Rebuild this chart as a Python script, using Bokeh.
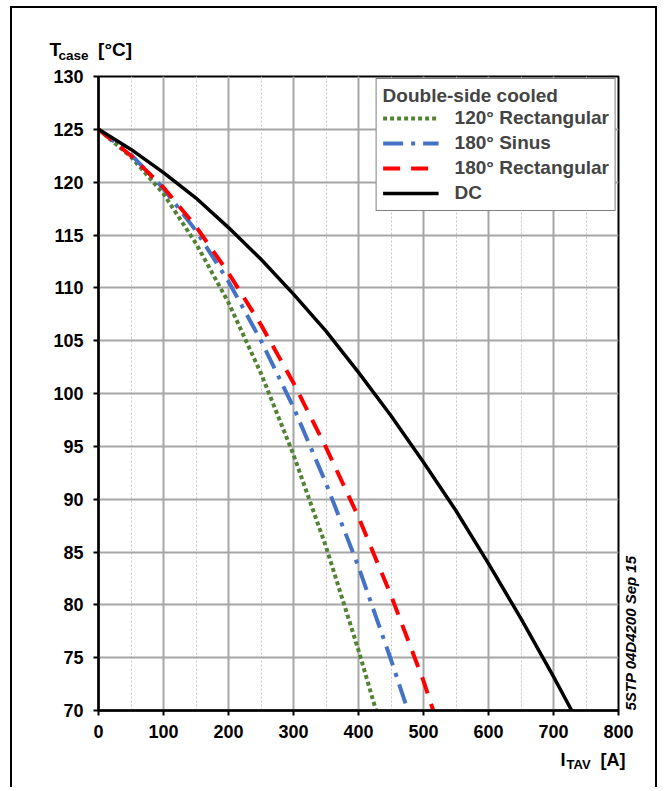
import math
from bokeh.plotting import figure
from bokeh.models import (Range1d, SingleIntervalTicker, Legend, LegendItem, Label)
from bokeh.embed import file_html
from bokeh.resources import INLINE

# ---------------- data ----------------
i_rect120 = [0, 50, 100, 150, 200, 250, 300, 350, 400, 427]
t_rect120 = [125.0, 122.4, 118.9, 114.2, 108.6, 101.9, 94.2, 85.5, 75.7, 70.0]
i_sin180 = [0, 50, 100, 150, 200, 250, 300, 350, 400, 450, 476]
t_sin180 = [125.0, 122.6, 119.4, 115.4, 110.6, 105.0, 98.7, 91.5, 83.6, 74.8, 70.0]
i_rect180 = [0, 50, 100, 150, 200, 250, 300, 350, 400, 450, 500, 515]
t_rect180 = [125.0, 122.5, 119.5, 115.8, 111.4, 106.5, 101.0, 94.9, 88.3, 80.9, 72.8, 70.0]
i_dc = [0, 50, 100, 150, 200, 250, 300, 350, 400, 450, 500, 550, 600, 650, 700, 728]
t_dc = [125.0, 123.1, 120.9, 118.5, 115.7, 112.7, 109.4, 105.9, 102.0, 97.9, 93.5,
        88.9, 83.9, 78.7, 73.2, 70.0]

series_names = ["120° Rectangular", "180° Sinus", "180° Rectangular", "DC"]
legend_title = "Double-side cooled"
doc_code = "5STP 04D4200 Sep 15"
NB = "\u00a0"
y_title_main = "T" + NB * 7 + "[°C]"
y_title_sub = "case"
x_title_main = "I" + NB * 7 + "[A]"
x_title_sub = "TAV"

FONT = "Liberation Sans"
# canvas geometry (px)
ML, MR, MT, MB = 86, 41, 68, 79
W, H = 647, 781
FW, FH = W - ML - MR, H - MT - MB
PAGE_X0, PAGE_Y0 = 12, 8            # canvas origin on the page
FRAME_L = PAGE_X0 + ML              # page x of frame left
FRAME_T = PAGE_Y0 + MT              # page y of frame top
FRAME_R = FRAME_L + FW
FRAME_B = FRAME_T + FH

p = figure(width=W, height=H, output_backend="svg", toolbar_location=None,
           x_range=Range1d(0, 800), y_range=Range1d(70, 130),
           min_border_left=ML, min_border_right=MR, min_border_top=MT, min_border_bottom=MB,
           background_fill_color="white", border_fill_color="white")
p.styles = {"margin-left": "10px", "margin-top": "6px",
            "border-left": "2px solid black", "border-top": "2px solid black",
            "border-right": "2px solid black", "border-bottom": "none"}

p.outline_line_color = "black"
p.outline_line_width = 2

p.xaxis.ticker = SingleIntervalTicker(interval=100, num_minor_ticks=2)
p.yaxis.ticker = SingleIntervalTicker(interval=5, num_minor_ticks=0)

for ax in (p.xaxis, p.yaxis):
    ax.axis_line_color = "black"
    ax.axis_line_width = 2.5
    ax.major_tick_line_color = "black"
    ax.major_tick_line_width = 2
    ax.major_tick_out = 5
    ax.major_tick_in = 0
    ax.minor_tick_line_color = None
    ax.major_label_text_font = FONT
    ax.major_label_text_font_style = "bold"
    ax.major_label_text_font_size = "18px"
    ax.major_label_text_color = "black"
p.yaxis.major_label_standoff = 10
p.xaxis.major_label_standoff = 9

p.xgrid.grid_line_color = "#A6A6A6"
p.xgrid.grid_line_width = 2
p.xgrid.minor_grid_line_color = "#C4C4C4"
p.xgrid.minor_grid_line_width = 1
p.xgrid.minor_grid_line_dash = "2 2"
p.ygrid.grid_line_color = "#A6A6A6"
p.ygrid.grid_line_width = 2

r_green = p.line(i_rect120, t_rect120, line_color="#548235", line_width=4, line_dash="4 3")
r_blue = p.line(i_sin180, t_sin180, line_color="#4472C4", line_width=4, line_dash="20 8 4 8")
r_red = p.line(i_rect180, t_rect180, line_color="#FF0000", line_width=4, line_dash="17 11")
r_dc = p.line(i_dc, t_dc, line_color="black", line_width=3.5)

legend = Legend(items=[LegendItem(label=series_names[0], renderers=[r_green]),
                       LegendItem(label=series_names[1], renderers=[r_blue]),
                       LegendItem(label=series_names[2], renderers=[r_red]),
                       LegendItem(label=series_names[3], renderers=[r_dc])],
                location="top_right", title=legend_title)
legend.title_text_font = FONT
legend.title_text_font_style = "bold"
legend.title_text_font_size = "19px"
legend.title_standoff = 0
legend.label_text_font = FONT
legend.label_text_font_style = "bold"
legend.label_text_font_size = "19px"
legend.label_height = 22
legend.glyph_height = 22
legend.glyph_width = 56
legend.label_standoff = 16
legend.spacing = 3
legend.padding = 6
legend.margin = 2
legend.border_line_color = "black"
legend.border_line_width = 1.5
legend.background_fill_color = "white"
legend.background_fill_alpha = 1.0
p.add_layout(legend, "center")


def lab(side, x, y, txt, size, **kw):
    p.add_layout(Label(x=x, y=y, x_units="screen", y_units="screen", text=txt,
                       text_font=FONT, text_font_style=kw.pop("style", "bold"),
                       text_font_size=size, text_color="black",
                       text_baseline=kw.pop("baseline", "alphabetic"),
                       text_align="left", **kw), side)


# y-axis title  T_case [°C]
lab("above", 49 - FRAME_L, FRAME_T - 48.5, y_title_main, "19px")
YAX_W = 5 + 10 + 30.0          # y axis panel width (tick + standoff + "130")
CASE_W = 2.224 * 13.5          # width of "case"
lab("left", 61 - (FRAME_L - YAX_W - CASE_W), FRAME_B - 55, y_title_sub, "13.5px")
# x-axis title  I_TAV [A]
XAX_H = 5 + 9 + 1.117 * 18
o1 = FRAME_B + XAX_H + 1.117 * 18
o2 = o1 + 1.117 * 13
lab("below", 560 - FRAME_L, o1 - 764, x_title_main, "18px")
lab("below", 566 - FRAME_L, o2 - 767.5, x_title_sub, "13px")
# document code, vertical (right panel: origin frame-right / frame-bottom)
lab("right", 630 - FRAME_R, 0, doc_code, "15px", style="bold italic",
    baseline="middle", angle=math.pi / 2)

open("out.html", "w").write(file_html(p, INLINE))
